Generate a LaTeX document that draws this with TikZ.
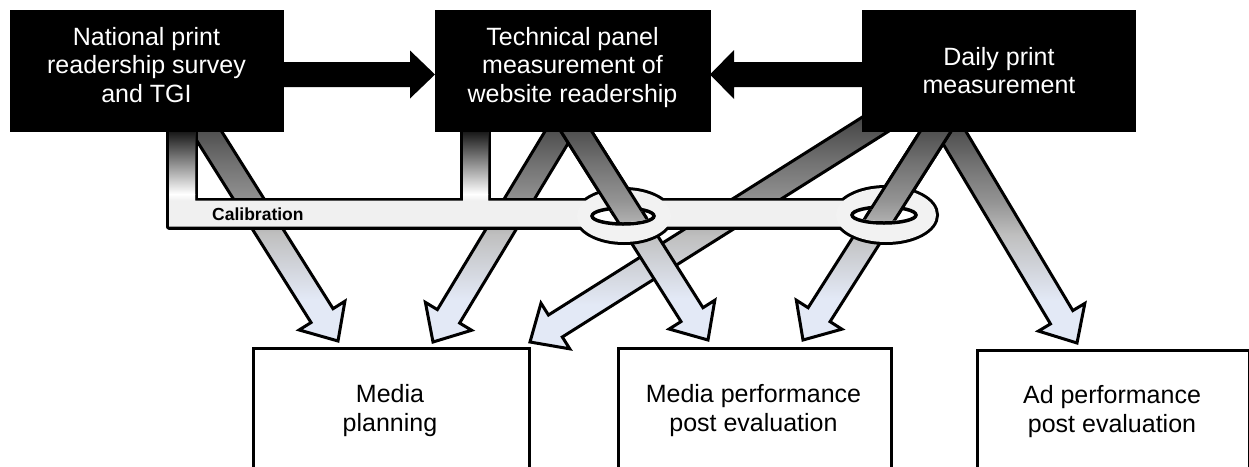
\documentclass[tikz,border=0pt]{standalone}
\usepackage{fontspec}
\setmainfont{Liberation Sans}
\usetikzlibrary{calc}
\definecolor{alight}{HTML}{E3E9F6}
\definecolor{barfill}{HTML}{F0F0F0}
\definecolor{ringfill}{HTML}{F2F2F2}
\pgfdeclareverticalshading{arrshade}{100bp}{color(0bp)=(alight); color(34bp)=(alight); color(48bp)=(black!25); color(55bp)=(black!42); color(63bp)=(black!55); color(80bp)=(black!88); color(90bp)=(black); color(100bp)=(black)}
\newcommand{\blockarrow}[6]{%
  \coordinate (tmpH) at ($(#3)!#6!(#2)$);
  \path[#1] ($(#2)!#4!90:(#3)$) -- ($(tmpH)!#4!-90:(#2)$) -- ($(tmpH)!#5!-90:(#2)$) -- (#3)
    -- ($(tmpH)!#5!90:(#2)$) -- ($(tmpH)!#4!90:(#2)$) -- ($(#2)!#4!-90:(#3)$) -- cycle;
}
\tikzset{
  flowarrow/.style={shade, shading=arrshade, draw=black, line width=3pt},
  blackarrow/.style={fill=black},
  topbox/.style={rectangle, fill=black, draw=black, line width=1pt, minimum width=273pt, minimum height=121pt, inner sep=0pt, anchor=north west},
  outbox/.style={rectangle, fill=white, draw=black, line width=3pt, minimum height=130pt, inner sep=0pt, anchor=north west},
  toptext/.style={text=white, align=center, inner sep=0pt, anchor=north, font=\fontsize{25}{28.5}\selectfont},
  outtext/.style={text=black, align=center, inner sep=0pt, anchor=north, font=\fontsize{25}{29}\selectfont},
}
\begin{document}
\begin{tikzpicture}[x=1pt, y=-1pt]
\useasboundingbox (0,0) rectangle (1249,466);
% arrow end points
\coordinate (s1) at (196,115); \coordinate (e1) at (338,341);
\coordinate (s2) at (570,115); \coordinate (e2) at (433,342);
\coordinate (s3) at (566,115); \coordinate (e3) at (708,340);
\coordinate (s4) at (890,115); \coordinate (e4) at (530,342);
\coordinate (s5) at (946,115); \coordinate (e5) at (803,340);
\coordinate (s6) at (941,115); \coordinate (e6) at (1077,343);
% diagonal arrows
\blockarrow{flowarrow}{s1}{e1}{13pt}{27pt}{30pt}
\blockarrow{flowarrow}{s2}{e2}{13pt}{27pt}{30pt}
\blockarrow{flowarrow}{s4}{e4}{13pt}{27pt}{30pt}
\blockarrow{flowarrow}{s6}{e6}{13pt}{27pt}{30pt}
\blockarrow{flowarrow}{s3}{e3}{13pt}{27pt}{30pt}
\blockarrow{flowarrow}{s5}{e5}{13pt}{27pt}{30pt}
% calibration structure: outline
\def\calpath{(169,120) -- (169,226.5) -- (886,226.5) -- (886,200.5) -- (488,200.5) -- (488,120) -- (463,120) -- (463,200.5) -- (195,200.5) -- (195,120) -- cycle}
\draw[line width=6pt, line join=round] \calpath;
\draw[line width=6pt] (624,216) ellipse [x radius=47pt, y radius=26pt];
\draw[line width=6pt] (886,215) ellipse [x radius=50pt, y radius=27pt];
\fill[barfill] \calpath;
\fill[ringfill] (624,216) ellipse [x radius=47pt, y radius=26pt];
\fill[ringfill] (886,215) ellipse [x radius=50pt, y radius=27pt];
\shade[top color=black, bottom color=white] (169,125) rectangle (195,194);
\shade[top color=black, bottom color=white] (463,125) rectangle (488,194);
\shade[top color=white, bottom color=barfill] (169,194) rectangle (195,200.5);
\shade[top color=white, bottom color=barfill] (463,194) rectangle (488,200.5);
% holes
\filldraw[fill=white, draw=black, line width=3.5pt] (623,216) ellipse [x radius=31pt, y radius=8pt];
\filldraw[fill=white, draw=black, line width=3.5pt] (884,215) ellipse [x radius=32pt, y radius=8pt];
% arrows through the rings (upper parts)
\begin{scope}
  \clip (520,100) rectangle (740,216);
  \blockarrow{flowarrow}{s3}{e3}{13pt}{27pt}{30pt}
\end{scope}
\begin{scope}
  \clip (623,216) ellipse [x radius=29pt, y radius=6pt];
  \blockarrow{flowarrow}{s3}{e3}{13pt}{27pt}{30pt}
\end{scope}
\begin{scope}
  \clip (820,100) rectangle (990,215);
  \blockarrow{flowarrow}{s5}{e5}{13pt}{27pt}{30pt}
\end{scope}
\begin{scope}
  \clip (884,215) ellipse [x radius=30pt, y radius=6pt];
  \blockarrow{flowarrow}{s5}{e5}{13pt}{27pt}{30pt}
\end{scope}
\node[anchor=base west, inner sep=0pt, font=\bfseries\fontsize{17.5}{19}\selectfont] (cal) at (212,220) {Calibration};
% top boxes
\node[topbox] (npr) at (10,10) {};
\node[topbox, minimum width=275pt] (tpm) at (435,10) {};
\node[topbox] (dpm) at (862,10) {};
% horizontal black arrows
\coordinate (h1s) at (275,74.5); \coordinate (h1e) at (435,74.5);
\coordinate (h2s) at (870,74.5); \coordinate (h2e) at (710,74.5);
\blockarrow{blackarrow}{h1s}{h1e}{12.5pt}{24pt}{25pt}
\blockarrow{blackarrow}{h2s}{h2e}{12.5pt}{24.5pt}{24pt}
\node[toptext] (npr-t) at (146.5,27) {National print\\readership survey\\and TGI};
\node[toptext] (tpm-t) at (572.5,27) {Technical panel\\measurement of\\website readership};
\node[toptext] (dpm-t) at (999,47) {Daily print\\measurement};
% bottom boxes
\node[outbox, minimum width=276pt] (mpl) at (252,347) {};
\node[outbox, minimum width=273pt] (mpe) at (617,347) {};
\node[outbox, minimum width=272pt] (ape) at (976,349) {};
\node[outtext] (mpl-t) at (390,384) {Media\\planning};
\node[outtext] (mpe-t) at (753.5,384) {Media performance\\post evaluation};
\node[outtext] (ape-t) at (1112,385) {Ad performance\\post evaluation};
\end{tikzpicture}
\end{document}
